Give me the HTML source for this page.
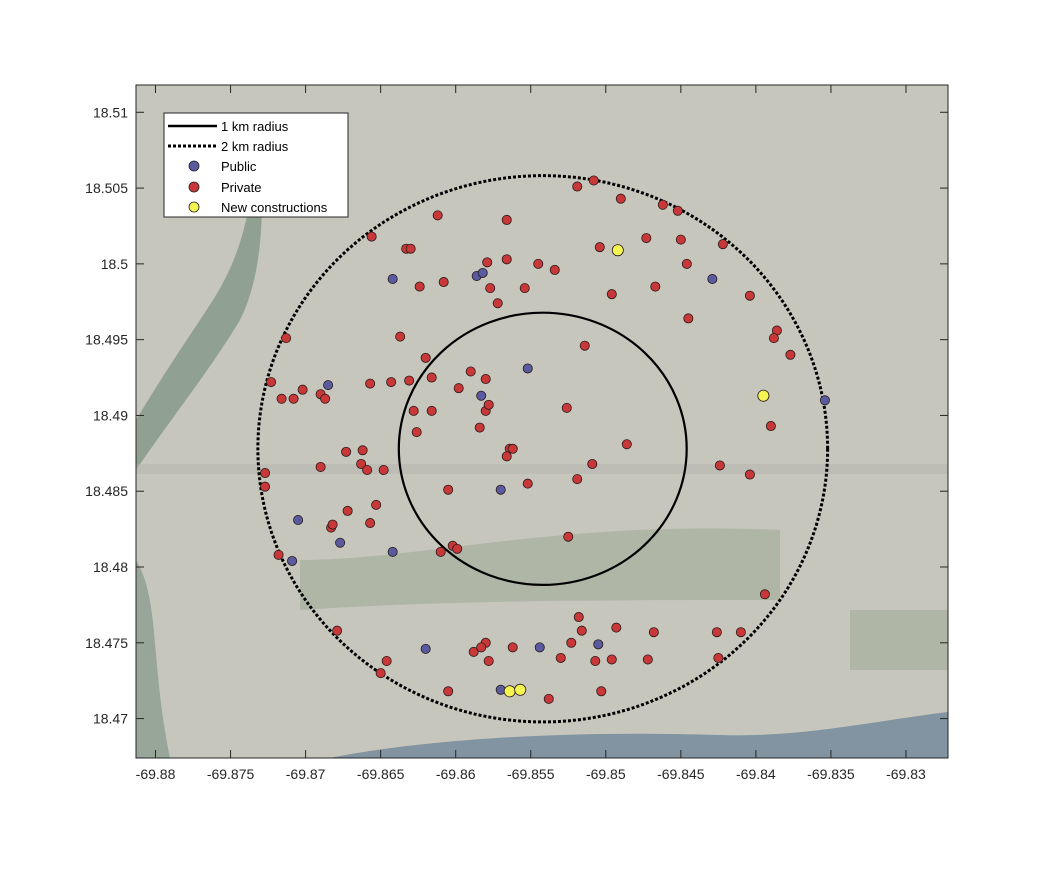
<!DOCTYPE html>
<html><head><meta charset="utf-8"><style>
body{margin:0;background:#fff;width:1049px;height:875px;overflow:hidden;font-family:"Liberation Sans",sans-serif}
svg{display:block}
</style></head><body>
<svg id="chart" width="1049" height="875" xmlns="http://www.w3.org/2000/svg">
<defs>
<clipPath id="clip"><rect x="136" y="85" width="812" height="673"/></clipPath>
</defs>
<g clip-path="url(#clip)">
<rect x="136" y="85" width="812" height="673" fill="#c6c6bd"/>
<path d="M250,200 C240,260 220,290 200,320 C180,350 160,380 136,420 L136,470 C170,420 210,370 240,320 C255,290 262,250 262,200 Z" fill="#7a927f" opacity="0.7"/>
<path d="M136,560 C160,600 150,660 170,758 L136,758 Z" fill="#85998c" opacity="0.7"/>
<rect x="136" y="464" width="812" height="10" fill="#b3b4ad" opacity="0.5"/>
<path d="M300,560 C420,560 560,520 780,530 L780,600 C600,600 450,600 300,610 Z" fill="#9aa68f" opacity="0.5"/>
<rect x="850" y="610" width="98" height="60" fill="#a0ac95" opacity="0.6"/>
<path d="M330,758 C420,740 560,730 720,735 C800,738 880,720 948,712 L948,758 Z" fill="#71879a" opacity="0.8"/>
</g>
<rect x="136" y="85" width="812" height="673" fill="none" stroke="#262626" stroke-width="1"/>
<g id="axes"></g>
<g id="marks" clip-path="url(#clip)"></g>
<g>
<rect x="164" y="113" width="184" height="104" fill="#fff" stroke="#262626" stroke-width="1"/>
<g><line x1="168" y1="126" x2="217" y2="126" stroke="#000" stroke-width="2.5"/><text x="221" y="131" font-size="13" fill="#000">1 km radius</text></g>
<g><line x1="168" y1="146" x2="217" y2="146" stroke="#000" stroke-width="3" stroke-dasharray="3,2"/><text x="221" y="151" font-size="13" fill="#000">2 km radius</text></g>
<g><circle cx="194" cy="166" r="5" fill="#5a5a9e" stroke="#222" stroke-width="0.8"/><text x="221" y="171" font-size="13" fill="#000">Public</text></g>
<g><circle cx="194" cy="187" r="5" fill="#c83838" stroke="#222" stroke-width="0.8"/><text x="221" y="192" font-size="13" fill="#000">Private</text></g>
<g><circle cx="194" cy="207" r="5" fill="#f5f552" stroke="#222" stroke-width="0.8"/><text x="221" y="212" font-size="13" fill="#000">New constructions</text></g>
</g>
</svg>
<script>
const xTicks=[-69.88,-69.875,-69.87,-69.865,-69.86,-69.855,-69.85,-69.845,-69.84,-69.835,-69.83];
const yTicks=[18.51,18.505,18.5,18.495,18.49,18.485,18.48,18.475,18.47];
const xTickLabels=["-69.88","-69.875","-69.87","-69.865","-69.86","-69.855","-69.85","-69.845","-69.84","-69.835","-69.83"];
const yTickLabels=["18.51","18.505","18.5","18.495","18.49","18.485","18.48","18.475","18.47"];
const center=[-69.8542,18.4878];
const radii1km=[0.00959,0.00898];
const radii2km=[0.01898,0.01802];
const privateLon=[-69.8508,-69.8519,-69.8490,-69.8462,-69.8452,-69.8612,-69.8566,-69.8656,-69.8633,-69.8630,-69.8504,-69.8473,-69.8450,-69.8422,-69.8566,-69.8579,-69.8545,-69.8534,-69.8446,-69.8624,-69.8608,-69.8577,-69.8554,-69.8496,-69.8467,-69.8404,-69.8572,-69.8386,-69.8388,-69.8445,-69.8637,-69.8514,-69.8713,-69.8377,-69.8620,-69.8631,-69.8657,-69.8643,-69.8616,-69.8598,-69.8590,-69.8580,-69.8723,-69.8702,-69.8716,-69.8708,-69.8690,-69.8687,-69.8628,-69.8616,-69.8580,-69.8578,-69.8526,-69.8626,-69.8584,-69.8486,-69.8390,-69.8564,-69.8566,-69.8562,-69.8673,-69.8663,-69.8662,-69.8690,-69.8659,-69.8648,-69.8605,-69.8552,-69.8519,-69.8509,-69.8424,-69.8404,-69.8727,-69.8727,-69.8653,-69.8672,-69.8683,-69.8682,-69.8657,-69.8718,-69.8610,-69.8602,-69.8599,-69.8525,-69.8394,-69.8679,-69.8518,-69.8516,-69.8493,-69.8468,-69.8426,-69.8410,-69.8588,-69.8580,-69.8583,-69.8562,-69.8530,-69.8523,-69.8507,-69.8496,-69.8472,-69.8425,-69.8646,-69.8650,-69.8605,-69.8578,-69.8538,-69.8503];
const privateLat=[18.5055,18.5051,18.5043,18.5039,18.5035,18.5032,18.5029,18.5018,18.5010,18.5010,18.5011,18.5017,18.5016,18.5013,18.5003,18.5001,18.5000,18.4996,18.5000,18.4985,18.4988,18.4984,18.4984,18.4980,18.4985,18.4979,18.4974,18.4956,18.4951,18.4964,18.4952,18.4946,18.4951,18.4940,18.4938,18.4923,18.4921,18.4922,18.4925,18.4918,18.4929,18.4924,18.4922,18.4917,18.4911,18.4911,18.4914,18.4911,18.4903,18.4903,18.4903,18.4907,18.4905,18.4889,18.4892,18.4881,18.4893,18.4878,18.4873,18.4878,18.4876,18.4868,18.4877,18.4866,18.4864,18.4864,18.4851,18.4855,18.4858,18.4868,18.4867,18.4861,18.4862,18.4853,18.4841,18.4837,18.4826,18.4828,18.4829,18.4808,18.4810,18.4814,18.4812,18.4820,18.4782,18.4758,18.4767,18.4758,18.4760,18.4757,18.4757,18.4757,18.4744,18.4750,18.4747,18.4747,18.4740,18.4750,18.4738,18.4739,18.4739,18.4740,18.4738,18.4730,18.4718,18.4738,18.4713,18.4718];
const publicLon=[-69.8642,-69.8586,-69.8582,-69.8429,-69.8552,-69.8685,-69.8583,-69.8354,-69.8570,-69.8705,-69.8677,-69.8709,-69.8642,-69.8620,-69.8544,-69.8505,-69.8570];
const publicLat=[18.4990,18.4992,18.4994,18.4990,18.4931,18.4920,18.4913,18.4910,18.4851,18.4831,18.4816,18.4804,18.4810,18.4746,18.4747,18.4749,18.4719];
const newLon=[-69.8492,-69.8395,-69.8564,-69.8557];
const newLat=[18.5009,18.4913,18.4718,18.4719];

const X0=136,X1=948,Y0=85,Y1=758;
const lonMin=-69.8813,lonMax=-69.8272,latMin=18.4674,latMax=18.5118;
const sx=v=>X0+(v-lonMin)/(lonMax-lonMin)*(X1-X0);
const sy=v=>Y1-(v-latMin)/(latMax-latMin)*(Y1-Y0);
const NS="http://www.w3.org/2000/svg";
const axes=document.getElementById('axes'),marks=document.getElementById('marks');
function mk(tag,attrs,parent){const e=document.createElementNS(NS,tag);for(const k in attrs)e.setAttribute(k,attrs[k]);parent.appendChild(e);return e;}
xTicks.forEach((t,i)=>{const x=sx(t);
 const l=mk('line',{x1:x,y1:Y1,x2:x,y2:Y1-8,stroke:'#262626'},axes);
 
 
 mk('line',{x1:x,y1:Y0,x2:x,y2:Y0+8,stroke:'#262626'},axes);
 const tx=mk('text',{x:x,y:Y1+21,'text-anchor':'middle','font-size':'14',fill:'#262626'},axes);
 tx.textContent=xTickLabels[i];
 
 
});
yTicks.forEach((t,i)=>{const y=sy(t);
 const l=mk('line',{x1:X0,y1:y,x2:X0+8,y2:y,stroke:'#262626'},axes);
 
 
 mk('line',{x1:X1,y1:y,x2:X1-8,y2:y,stroke:'#262626'},axes);
 const tx=mk('text',{x:X0-8,y:y+5,'text-anchor':'end','font-size':'14',fill:'#262626'},axes);
 tx.textContent=yTickLabels[i];
 
 
});
function ring(r,dash,name){
 const e=mk('ellipse',{cx:sx(center[0]),cy:sy(center[1]),rx:sx(center[0]+r[0])-sx(center[0]),ry:sy(center[1])-sy(center[1]+r[1]),fill:'none',stroke:'#000','stroke-width':dash?3:2.2},marks);
 if(dash)e.setAttribute('stroke-dasharray','3,2');
 
 
}
ring(radii1km,false,'ring-1km');
ring(radii2km,true,'ring-2km');
function pts(lons,lats,fill,r,name){
 lons.forEach((v,i)=>{
  const c=mk('circle',{cx:sx(v),cy:sy(lats[i]),r:r,fill:fill,stroke:'#2a1a1a','stroke-width':0.8},marks);
  
  
 });
}
pts(privateLon,privateLat,'#c83838',4.6,'private-point');
pts(publicLon,publicLat,'#5a5a9e',4.6,'public-point');
pts(newLon,newLat,'#f5f552',5.6,'new-construction-point');
</script>
</body></html>
